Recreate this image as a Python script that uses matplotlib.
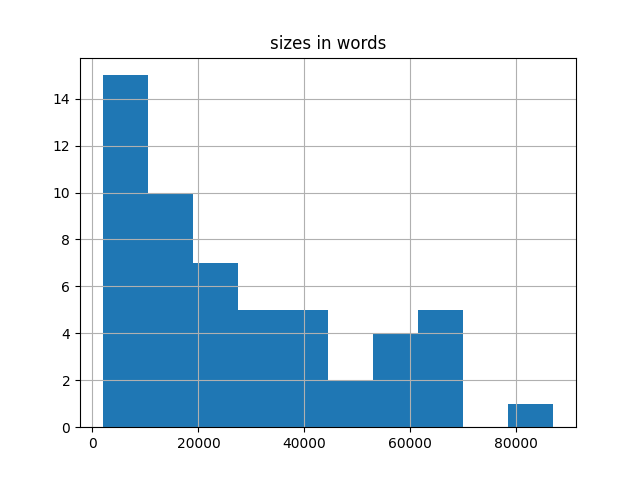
import numpy as np
import matplotlib
matplotlib.use("Agg")
import matplotlib.pyplot as plt

# bin edges (words) and counts per bin
bin_edges = [1900, 10410, 18920, 27430, 35940, 44450, 52960, 61470, 69980, 78490, 87000]
counts = [15, 10, 7, 5, 5, 2, 4, 5, 0, 1]

fig, ax = plt.subplots(figsize=(6.4, 4.8), dpi=100)
ax.hist(bin_edges[:-1], bins=bin_edges, weights=counts, color="#1f77b4")
ax.grid(True)
ax.set_title("sizes in words")

fig.savefig("out.png")
